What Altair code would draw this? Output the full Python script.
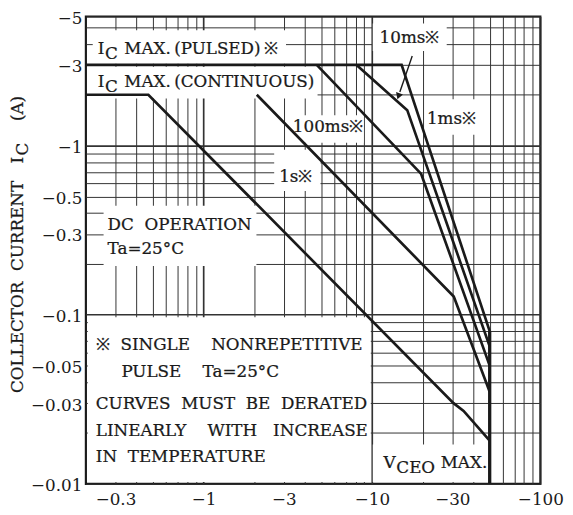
import altair as alt
import pandas as pd

FONT = "DejaVu Serif"
INK = "#1a1a1a"
NB = "\u00a0"

# ---- axes (magnitudes; the chart labels them as negative values) ----
X_DOMAIN = [0.2, 100]
Y_DOMAIN = [0.01, 5.8]
X_GRID = [0.3, 0.4, 0.5, 0.6, 0.7, 0.8, 0.9, 1, 2, 3, 4, 5, 6, 7, 8, 9,
          10, 20, 30, 40, 50, 60, 70, 80, 90, 100]
Y_GRID = [0.01, 0.02, 0.03, 0.04, 0.05, 0.06, 0.07, 0.08, 0.09, 0.1, 0.2, 0.3,
          0.4, 0.5, 0.6, 0.7, 0.8, 0.9, 1, 2, 3, 4, 5, 5.8]
X_TICK_VALUES = [0.3, 1, 3, 10, 30, 100]
X_TICK_LABELS = ["\u22120.3", "\u22121", "\u22123", "\u221210", "\u221230", "\u2212100"]
Y_TICK_VALUES = [0.01, 0.03, 0.05, 0.1, 0.3, 0.5, 1, 3, 5.8]
Y_TICK_LABELS = ["\u22120.01", "\u22120.03", "\u22120.05", "\u22120.1", "\u22120.3",
                 "\u22120.5", "\u22121", "\u22123", "\u22125"]

# ---- safe operating area curves: |VCE| (V), |IC| (A) ----
VCE_1MS = [0.2, 15, 50]
IC_1MS = [3, 3, 0.08]
VCE_10MS = [8.1, 16.2, 50]
IC_10MS = [3, 1.62, 0.065]
VCE_100MS = [4.7, 19.6, 50]
IC_100MS = [3, 0.68, 0.05]
VCE_1S = [2.07, 30.6, 50]
IC_1S = [2, 0.128, 0.035]
VCE_DC = [0.2, 0.47, 30.5, 35, 50]
IC_DC = [2, 2, 0.030, 0.027, 0.018]
VCE_VCEO = [50, 50]
IC_VCEO = [0.08, 0.01]

# ---- white label backgrounds (data coords) ----
BOX_X1 = [0.2197, 0.2054, 10.11, 20.93, 3.214, 2.626, 0.2548, 0.2054, 10.11]
BOX_X2 = [3.087, 4.752, 27.79, 47.0, 8.93, 4.948, 2.06, 9.84, 48.95]
BOX_Y1 = [4.804, 2.924, 5.278, 1.877, 1.514, 0.9465, 0.4403, 0.0966, 0.01709]
BOX_Y2 = [3.05, 1.902, 3.624, 1.158, 1.040, 0.5385, 0.1941, 0.01026, 0.01026]

# ---- annotations ----
ANN_TEXT = ["I", "C", "MAX.\u2009(PULSED)\u2009\u203b",
            "I", "C", "MAX.\u2009(CONTINUOUS)",
            "10ms\u203b", "1ms\u203b", "100ms\u203b", "1s\u203b",
            "DC" + NB * 2 + "OPERATION", "Ta=25\u00b0C",
            "\u203b" + NB * 2 + "SINGLE" + NB * 4 + "NONREPETITIVE",
            "PULSE" + NB * 4 + "Ta=25\u00b0C",
            "CURVES" + NB * 2 + "MUST" + NB * 2 + "BE" + NB * 2 + "DERATED",
            "LINEARLY" + NB * 4 + "WITH" + NB * 3 + "INCREASE",
            "IN" + NB * 2 + "TEMPERATURE",
            "V", "CEO", "MAX."]
ANN_X = [0.235, 0.2601, 0.3382, 0.235, 0.2601, 0.3382,
         11.1, 21.2, 3.39, 2.81, 0.269, 0.269,
         0.229, 0.325, 0.229, 0.229, 0.229,
         11.7, 13.95, 25.6]
ANN_Y = [3.70, 3.458, 3.70, 2.38, 2.226, 2.38,
         4.31, 1.445, 1.29, 0.650, 0.339, 0.244,
         0.0663, 0.0455, 0.0296, 0.0206, 0.01435,
         0.01324, 0.01238, 0.01324]

ARROW_X = [17.34, 14.64]
ARROW_Y = [3.389, 2.076]
ARROW_HEAD = [14.37, 1.960]


def label_expr(vals, labs):
    e = "''"
    for v, t in reversed(list(zip(vals, labs))):
        e = f"datum.value == {v} ? '{t}' : {e}"
    return e


rows = []
for name, xs_, ys_ in [("1ms", VCE_1MS, IC_1MS), ("10ms", VCE_10MS, IC_10MS),
                       ("100ms", VCE_100MS, IC_100MS), ("1s", VCE_1S, IC_1S),
                       ("DC", VCE_DC, IC_DC), ("VCEO", VCE_VCEO, IC_VCEO)]:
    for k, (a, b) in enumerate(zip(xs_, ys_)):
        rows.append({"series": name, "k": k, "x": a, "y": b})
curve_df = pd.DataFrame(rows)
box_df = pd.DataFrame({"x": BOX_X1, "x2": BOX_X2, "y": BOX_Y1, "y2": BOX_Y2})
ann_df = pd.DataFrame({"t": ANN_TEXT, "x": ANN_X, "y": ANN_Y})
arrow_df = pd.DataFrame({"x": [ARROW_X[0]], "x2": [ARROW_X[1]],
                         "y": [ARROW_Y[0]], "y2": [ARROW_Y[1]]})
head_df = pd.DataFrame({"x": [ARROW_HEAD[0]], "y": [ARROW_HEAD[1]]})

xs = alt.Scale(type="log", domain=X_DOMAIN, nice=False)
ys = alt.Scale(type="log", domain=Y_DOMAIN, nice=False)

GRID_COLOR = "#333"
x_axis = alt.Axis(values=X_GRID, labelExpr=label_expr(X_TICK_VALUES, X_TICK_LABELS),
                  title=None, grid=True, gridColor=GRID_COLOR, gridOpacity=1,
                  gridWidth={"condition": {"test": "datum.value == 1 || datum.value == 10",
                                           "value": 1.7}, "value": 1},
                  domain=False, ticks=False, tickSize=0, labelPadding=8,
                  labelFont=FONT, labelFontSize=17, labelColor=INK,
                  labelOverlap=False, labelFlush=False)
y_axis = alt.Axis(values=Y_GRID, labelExpr=label_expr(Y_TICK_VALUES, Y_TICK_LABELS),
                  title=None, grid=True, gridColor=GRID_COLOR, gridOpacity=1,
                  gridWidth={"condition": {"test": "datum.value == 0.1 || datum.value == 1",
                                           "value": 1.7}, "value": 1},
                  domain=False, ticks=False, tickSize=0, labelPadding=4,
                  labelOffset=2, labelBaseline="middle",
                  labelFont=FONT, labelFontSize=17, labelColor=INK,
                  labelOverlap=False, labelFlush=False)

X = alt.X("x:Q", scale=xs, axis=x_axis)
Y = alt.Y("y:Q", scale=ys, axis=y_axis)

boxes = alt.Chart(box_df).mark_rect(color="white").encode(x=X, x2="x2:Q", y=Y, y2="y2:Q")

curves = alt.Chart(curve_df).transform_filter(alt.datum.series != "VCEO").mark_line(
    color=INK, strokeWidth=2.7, strokeJoin="miter").encode(
    x=X, y=Y, detail="series:N", order="k:Q")

vceo = alt.Chart(curve_df).transform_filter(alt.datum.series == "VCEO").mark_line(
    color=INK, strokeWidth=3.3).encode(x=X, y=Y, order="k:Q")

arrow = alt.Chart(arrow_df).mark_rule(color=INK, strokeWidth=1.4).encode(
    x=X, x2="x2:Q", y=Y, y2="y2:Q")
head = alt.Chart(head_df).mark_point(shape="triangle-down", filled=True, color=INK,
                                     opacity=1, size=55, angle=19).encode(x=X, y=Y)

texts = alt.Chart(ann_df).mark_text(align="left", baseline="middle", font=FONT,
                                    fontSize=17, color=INK, stroke=INK,
                                    strokeWidth=0.25).encode(
    x=X, y=Y, text="t:N")

one = pd.DataFrame({"a": [0]})


def title_piece(txt, px, py):
    return alt.Chart(one).mark_text(angle=270, align="left", baseline="alphabetic",
                                    font=FONT, fontSize=17, color=INK, stroke=INK,
                                    strokeWidth=0.25).encode(
        x=alt.value(px), y=alt.value(py), text=alt.value(txt))


t1 = title_piece("COLLECTOR" + NB * 2 + "CURRENT", -64, 382)
t2 = title_piece("I", -64, 149)
t3 = title_piece("C", -59, 141)
t4 = title_piece("(A)", -64, 106)

chart = alt.layer(boxes, curves, vceo, arrow, head, texts, t1, t2, t3, t4).properties(
    width=461, height=474,
    padding={"left": 79, "top": 5, "right": 25, "bottom": 28},
    autosize=alt.AutoSizeParams(type="none"),
).configure_view(stroke=INK, strokeWidth=2.2)

chart.save("out.html", embed_options={"renderer": "svg", "actions": False})
